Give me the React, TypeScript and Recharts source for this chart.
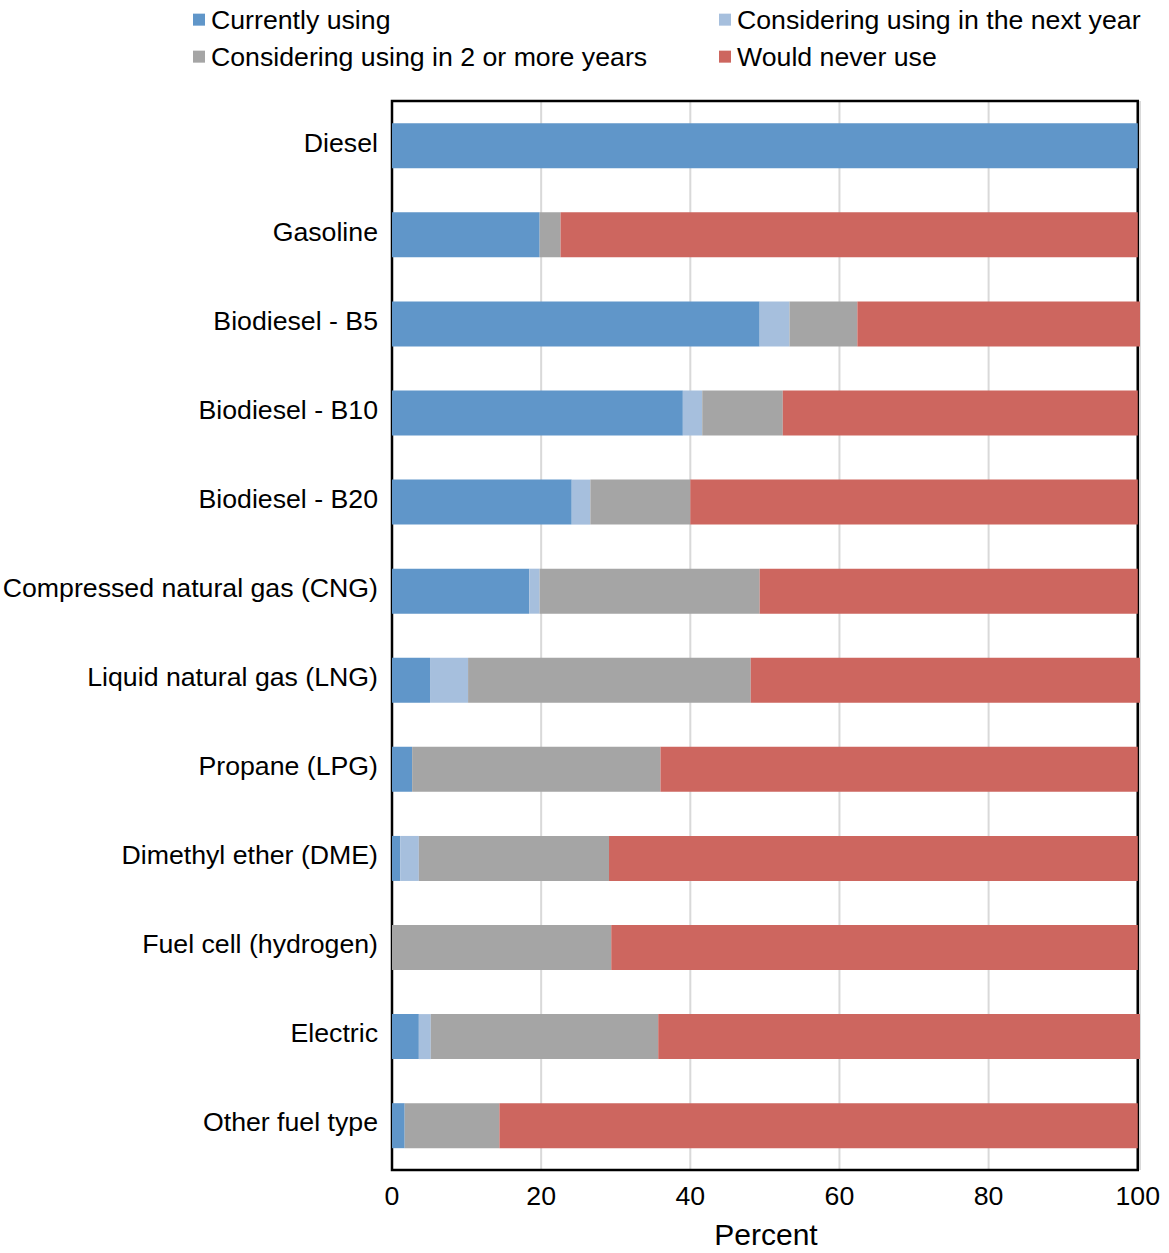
import React from 'react';
import {
  BarChart,
  Bar,
  XAxis,
  YAxis,
  CartesianGrid,
  ReferenceArea,
} from 'recharts';

const FONT = '"Liberation Sans", Arial, Helvetica, sans-serif';

const fuels = [
  'Diesel',
  'Gasoline',
  'Biodiesel - B5',
  'Biodiesel - B10',
  'Biodiesel - B20',
  'Compressed natural gas (CNG)',
  'Liquid natural gas (LNG)',
  'Propane (LPG)',
  'Dimethyl ether (DME)',
  'Fuel cell (hydrogen)',
  'Electric',
  'Other fuel type',
];

// percent of respondents per fuel, one array per answer
const currentlyUsing = [100, 19.8, 49.3, 39.0, 24.1, 18.4, 5.1, 2.7, 1.1, 0, 3.6, 1.7];
const nextYear = [0, 0, 4.0, 2.6, 2.5, 1.4, 5.1, 0, 2.5, 0, 1.6, 0];
const twoOrMoreYears = [0, 2.8, 9.1, 10.8, 13.4, 29.5, 37.9, 33.3, 25.5, 29.4, 30.5, 12.7];
const neverUse = [0, 77.4, 37.9, 47.6, 60.0, 50.7, 52.2, 64.0, 70.9, 70.6, 64.6, 85.6];

const xTicks = [0, 20, 40, 60, 80, 100];

const SERIES = [
  { key: 'current', label: 'Currently using', color: '#6096C9' },
  { key: 'nextYear', label: 'Considering using in the next year', color: '#A6BFDD' },
  { key: 'later', label: 'Considering using in 2 or more years', color: '#A5A5A5' },
  { key: 'never', label: 'Would never use', color: '#CD665F' },
];

const chartData = fuels.map((fuel, i) => ({
  fuel,
  current: currentlyUsing[i],
  nextYear: nextYear[i],
  later: twoOrMoreYears[i],
  never: neverUse[i],
}));

const FuelTick = ({ y, payload }: any) => (
  <text
    x={378}
    y={y + 6}
    textAnchor="end"
    fontSize={26.7}
    fontFamily={FONT}
    fill="#000"
  >
    {payload.value}
  </text>
);

const PercentTick = ({ x, y, payload }: any) => (
  <text
    x={x}
    y={y + 27}
    textAnchor="middle"
    fontSize={26.7}
    fontFamily={FONT}
    fill="#000"
  >
    {payload.value}
  </text>
);

const AxisTitle = ({ viewBox }: any) => (
  <text
    x={viewBox.x + viewBox.width / 2}
    y={viewBox.y + 75}
    textAnchor="middle"
    fontSize={30}
    fontFamily={FONT}
    fill="#000"
  >
    Percent
  </text>
);

// two-column legend above the plot
const LEGEND_POS = [
  { left: 193, top: 20 },
  { left: 719, top: 20 },
  { left: 193, top: 57 },
  { left: 719, top: 57 },
];

function LegendBlock() {
  return (
    <>
      {SERIES.map((s, i) => (
        <div
          key={s.key}
          style={{
            position: 'absolute',
            left: LEGEND_POS[i].left,
            top: LEGEND_POS[i].top,
            transform: 'translateY(-50%)',
            display: 'flex',
            alignItems: 'center',
            fontFamily: FONT,
            fontSize: 26.7,
            color: '#000',
            whiteSpace: 'nowrap',
            lineHeight: 1,
          }}
        >
          <span
            style={{
              display: 'inline-block',
              width: 12,
              height: 12,
              background: s.color,
              marginRight: 6,
            }}
          />
          {s.label}
        </div>
      ))}
    </>
  );
}

export default function App() {
  return (
    <div
      style={{
        position: 'absolute',
        left: 0,
        top: 0,
        width: 1169,
        height: 1253,
        background: '#fff',
      }}
    >
      <LegendBlock />
      <BarChart
        width={1169}
        height={1253}
        data={chartData}
        layout="vertical"
        margin={{ top: 101, right: 29, left: 0, bottom: 0 }}
        barCategoryGap="25%"
      >
        <CartesianGrid
          horizontal={false}
          stroke="#D9D9D9"
          strokeWidth={2}
        />
        <XAxis
          type="number"
          domain={[0, 100]}
          ticks={xTicks}
          interval={0}
          height={83}
          tickLine={false}
          axisLine={false}
          tick={<PercentTick />}
          label={<AxisTitle />}
        />
        <YAxis
          type="category"
          dataKey="fuel"
          width={392}
          tickLine={false}
          axisLine={false}
          tick={<FuelTick />}
          interval={0}
        />
        {SERIES.map((s) => (
          <Bar
            key={s.key}
            dataKey={s.key}
            name={s.label}
            stackId="fuel"
            fill={s.color}
            isAnimationActive={false}
          />
        ))}
        {/* plot frame */}
        <ReferenceArea
          x1={0}
          x2={100}
          fill="none"
          fillOpacity={0}
          stroke="#000"
          strokeWidth={2.5}
        />
      </BarChart>
    </div>
  );
}
